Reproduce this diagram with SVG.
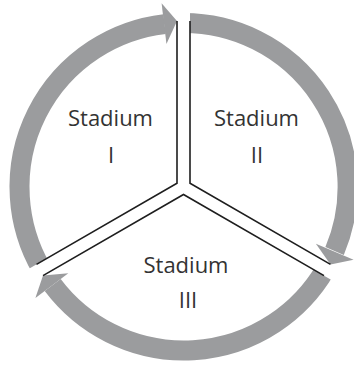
<svg xmlns="http://www.w3.org/2000/svg" width="354" height="365" viewBox="0 0 354 365">
<style>
.ring{fill:none;stroke:#9b9c9e;stroke-width:20;stroke-linecap:butt}
.head{fill:#9b9c9e}
.band{fill:#ffffff}
.edge{fill:none;stroke:#1e1e1e;stroke-width:1.6;stroke-linejoin:miter}
.lbl{font-family:"Open Sans","Liberation Sans",sans-serif;font-size:22px;fill:#333;text-anchor:middle}
</style>
<rect width="354" height="365" fill="#fff"/>
<g id="connectors">
<path class="ring" d="M41.47 269 A164 164 0 0 1 164.6 24.1"/>
<polygon class="head" points="166.45,44 161.6,3.3 177,21"/>
<path class="ring" d="M183.5 23 A164 164 0 0 1 334.6 251"/>
<polygon class="head" points="315.9,243.7 353.6,259.8 330.5,264.4"/>
<path class="ring" d="M325.53 269 A164 164 0 0 1 52.7 285"/>
<polygon class="head" points="68.3,273.3 35.4,297.9 43,275.6"/>
<rect class="band" x="0" y="-6.5" width="220" height="13" transform="translate(183.5,187) rotate(270)"/>
<rect class="band" x="0" y="-6.5" width="220" height="13" transform="translate(183.5,187) rotate(30)"/>
<rect class="band" x="0" y="-6.5" width="220" height="13" transform="translate(183.5,187) rotate(150)"/>
<polyline class="edge" points="177,21 177,183.25 36.5,264.4"/>
<polyline class="edge" points="190,21 190,183.25 330.5,264.4"/>
<polyline class="edge" points="43,275.6 183.5,194.5 324,275.6"/>
</g>
<g id="stadium1">
<text class="lbl" x="110.5" y="126">Stadium</text>
<text class="lbl" x="111" y="163">I</text>
</g>
<g id="stadium2">
<text class="lbl" x="256.5" y="126">Stadium</text>
<text class="lbl" x="257" y="163">II</text>
</g>
<g id="stadium3">
<text class="lbl" x="186" y="273">Stadium</text>
<text class="lbl" x="188" y="308">III</text>
</g>
</svg>
